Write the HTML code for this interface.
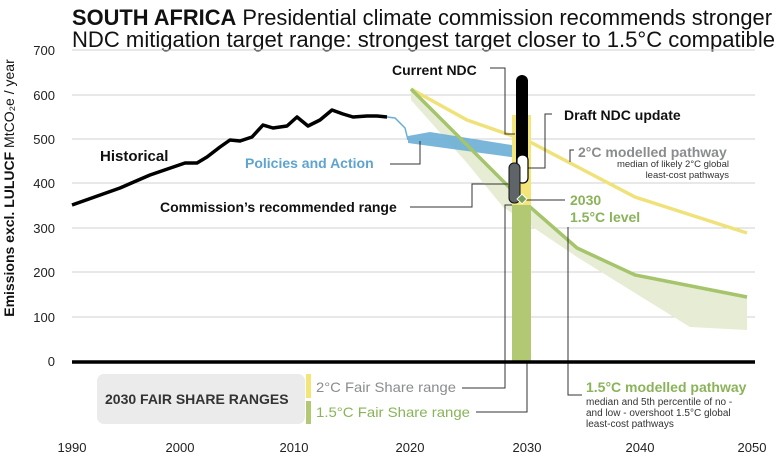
<!DOCTYPE html>
<html><head><meta charset="utf-8"><style>
html,body{margin:0;padding:0;background:#fff;}
svg{display:block;font-family:"Liberation Sans",sans-serif;}
</style></head><body>
<svg width="777" height="458" viewBox="0 0 777 458">
<text x="72" y="25" font-size="22" fill="#111" textLength="700" lengthAdjust="spacingAndGlyphs"><tspan font-weight="bold">SOUTH AFRICA</tspan> Presidential climate commission recommends stronger</text>
<text x="72" y="47" font-size="22" fill="#111" textLength="703" lengthAdjust="spacingAndGlyphs">NDC mitigation target range: strongest target closer to 1.5°C compatible</text>
<g stroke="#d0d0d0" stroke-width="1">
<line x1="72" y1="50" x2="755" y2="50"/><line x1="72" y1="95" x2="755" y2="95"/><line x1="72" y1="139" x2="755" y2="139"/><line x1="72" y1="183" x2="755" y2="183"/><line x1="72" y1="228" x2="755" y2="228"/><line x1="72" y1="272" x2="755" y2="272"/><line x1="72" y1="317" x2="755" y2="317"/>
</g>
<g font-size="13" fill="#222" text-anchor="end">
<text x="55" y="55">700</text><text x="55" y="100">600</text><text x="55" y="144">500</text><text x="55" y="188">400</text><text x="55" y="233">300</text><text x="55" y="277">200</text><text x="55" y="322">100</text><text x="55" y="366">0</text>
</g>
<text transform="translate(14,188) rotate(-90)" font-size="14" fill="#111" text-anchor="middle"><tspan font-weight="bold">Emissions excl. LULUCF</tspan> MtCO₂e / year</text>
<g font-size="13" fill="#222" text-anchor="middle">
<text x="72" y="452">1990</text><text x="180" y="452">2000</text><text x="294" y="452">2010</text><text x="410" y="452">2020</text><text x="527" y="452">2030</text><text x="640" y="452">2040</text><text x="752" y="452">2050</text>
</g>
<polygon points="411,89 522,200 577,248 635,275 747,297 747,330 690,327 635,293 577,257 503,207 467,163 411,100" fill="#e6edd4"/>
<polyline points="411,89 467,120 530,142 635,197 747,233" fill="none" stroke="#f0e27a" stroke-width="3.5"/>
<polyline points="387,117 395,118 405,128 408,140" fill="none" stroke="#6aaed6" stroke-width="1.5"/>
<polygon points="408,136 430,132 518,146 518,158 430,146 408,143" fill="#6aaed6" opacity="0.9"/>
<polyline points="411,89 522,200 577,248 635,275 747,297" fill="none" stroke="#a5c46b" stroke-width="3.5"/>
<rect x="512" y="115" width="19" height="90" fill="#f3e57a"/>
<rect x="512" y="205" width="19" height="156" fill="#b2c873"/>
<polyline points="72,205 120,188 150,175 185,163 197,163 207,157 220,147 230,140 240,141 252,137 263,125 273,128 287,126 297,117 308,126 320,120 332,110 343,114 353,117 367,116 377,116 387,117" fill="none" stroke="#000" stroke-width="3.5" stroke-linejoin="round"/>
<g fill="none" stroke="#333" stroke-width="1">
<polyline points="490,68 505,68 505,134 515,134"/>
<polyline points="552,114 545,114 545,168 528,168"/>
<polyline points="574,150 570,150 570,162"/>
<polyline points="525,200 565,200"/>
<polyline points="410,207 472,207 472,184 508,184"/>
<polyline points="390,164 420,164 420,141"/>
<polyline points="462,388 505,388 505,205 512,205"/>
<polyline points="476,412 527,412 527,362"/>
<polyline points="582,395 568,395 568,227"/>
</g>
<rect x="516" y="75" width="12" height="95" rx="6" fill="#000"/>
<rect x="517" y="155" width="11" height="28" rx="5" fill="#fff" stroke="#000" stroke-width="1.2"/>
<rect x="509" y="163" width="11" height="40" rx="5" fill="#5f6468" stroke="#111" stroke-width="1"/>
<rect x="518.5" y="195.5" width="7" height="7" fill="#7aa35a" stroke="#fff" stroke-width="1" transform="rotate(45 522 199)"/>
<line x1="72" y1="362" x2="755" y2="362" stroke="#000" stroke-width="3.5"/>
<text x="100" y="161" font-size="15" font-weight="bold" fill="#111">Historical</text>
<text x="245" y="168" font-size="14" font-weight="bold" fill="#5fa3cf">Policies and Action</text>
<text x="160" y="212" font-size="14" font-weight="bold" fill="#111">Commission’s recommended range</text>
<text x="392" y="75" font-size="14" font-weight="bold" fill="#111">Current NDC</text>
<text x="564" y="120" font-size="14" font-weight="bold" fill="#111">Draft NDC update</text>
<text x="578" y="157" font-size="14" font-weight="bold" fill="#8a8c8e">2°C modelled pathway</text>
<text x="729" y="167" font-size="9.5" fill="#333" text-anchor="end">median of likely 2°C global</text>
<text x="729" y="178" font-size="9.5" fill="#333" text-anchor="end">least-cost pathways</text>
<text x="570" y="205" font-size="14" font-weight="bold" fill="#8ab35a">2030</text>
<text x="570" y="222" font-size="14" font-weight="bold" fill="#8ab35a">1.5°C level</text>
<rect x="97" y="374" width="208" height="50" rx="7" fill="#ebebeb"/>
<text x="105" y="404" font-size="14" font-weight="bold" fill="#333">2030 FAIR SHARE RANGES</text>
<rect x="306" y="374" width="5" height="24" fill="#f3e57a"/>
<rect x="306" y="401" width="5" height="23" fill="#b2c873"/>
<text x="316" y="392" font-size="14" fill="#8a8c8e" textLength="140" lengthAdjust="spacingAndGlyphs">2°C Fair Share range</text>
<text x="316" y="417" font-size="14" fill="#8ab35a" textLength="154" lengthAdjust="spacingAndGlyphs">1.5°C Fair Share range</text>
<text x="586" y="392" font-size="14" font-weight="bold" fill="#8ab35a">1.5°C modelled pathway</text>
<text x="586" y="405" font-size="10" fill="#333">median and 5th percentile of no -</text>
<text x="586" y="416" font-size="10" fill="#333">and low - overshoot 1.5°C global</text>
<text x="586" y="427" font-size="10" fill="#333">least-cost pathways</text>
</svg>
</body></html>
